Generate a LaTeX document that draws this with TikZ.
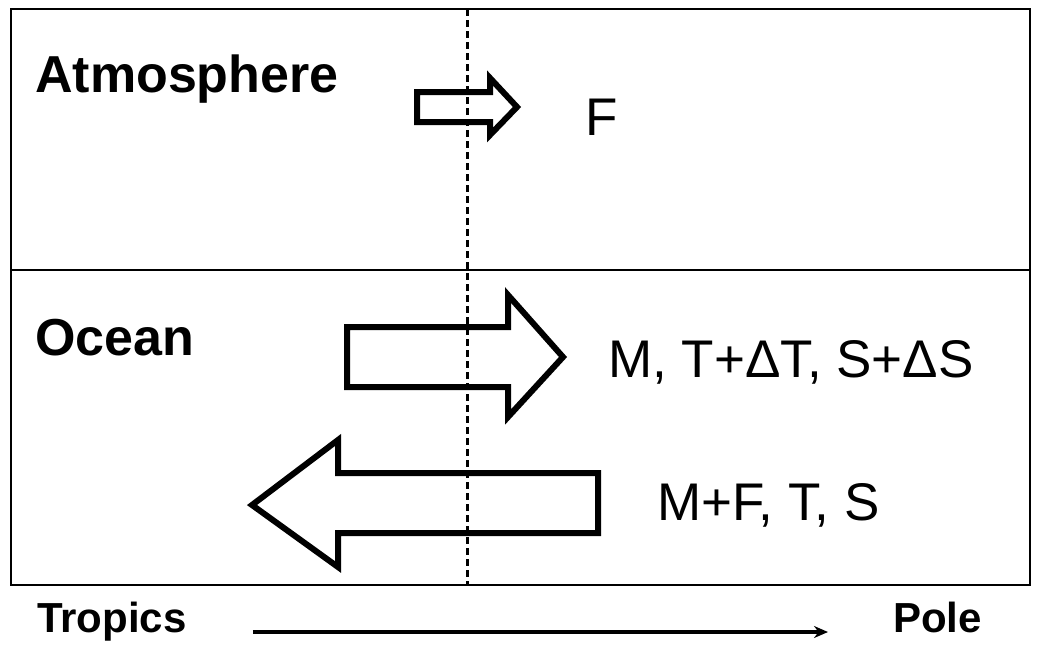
\documentclass[tikz,border=0pt]{standalone}
\usepackage{fontspec}
\setmainfont{Liberation Sans}
\usetikzlibrary{arrows.meta}

\begin{document}
\begin{tikzpicture}[x=1pt, y=-1pt, >={Stealth[length=14pt, width=12pt]},
    region/.style={font=\fontsize{52}{60}\selectfont\bfseries, anchor=base west, inner sep=0pt},
    lbl/.style={font=\fontsize{53}{60}\selectfont, anchor=base west, inner sep=0pt},
    axislbl/.style={font=\fontsize{42}{50}\selectfont\bfseries, inner sep=0pt},
    flux/.style={draw, line width=6pt, fill=white, line join=miter}]
    \useasboundingbox (0,0) rectangle (1038,646);

    % the two layers
    \draw[line width=2.5pt] (11,9) rectangle (1030,585);
    \draw[line width=2pt] (11,270) -- (1030,270);

    % transports
    \draw[flux] (417,92) -- (490,92) -- (490,78) -- (517,107) -- (490,135) -- (490,122) -- (417,122) -- cycle;
    \draw[flux] (347,327) -- (508,327) -- (508,295) -- (563,357) -- (508,417) -- (508,387) -- (347,387) -- cycle;
    \draw[flux] (598,473) -- (338,473) -- (338,440) -- (252,505) -- (338,567) -- (338,533) -- (598,533) -- cycle;

    % boundary
    \draw[line width=3pt, dash pattern=on 7pt off 4pt] (467,9) -- (467,585);

    \node[region] (atm) at (35,92) {Atmosphere};
    \node[region] (ocean) at (35,355) {Ocean};
    \node[lbl] (fw) at (585,135) {F};
    \node[lbl] (poleward) at (608,377) {M, T+ΔT, S+ΔS};
    \node[lbl] (return) at (657,520) {M+F, T, S};

    \node[axislbl, anchor=base west] (tropics) at (37,632) {Tropics};
    \node[axislbl, anchor=base west] (pole) at (893,632) {Pole};
    \draw[->, line width=3.5pt] ([xshift=66pt]tropics.base east) -- ([xshift=-65pt]pole.base west);
\end{tikzpicture}
\end{document}
